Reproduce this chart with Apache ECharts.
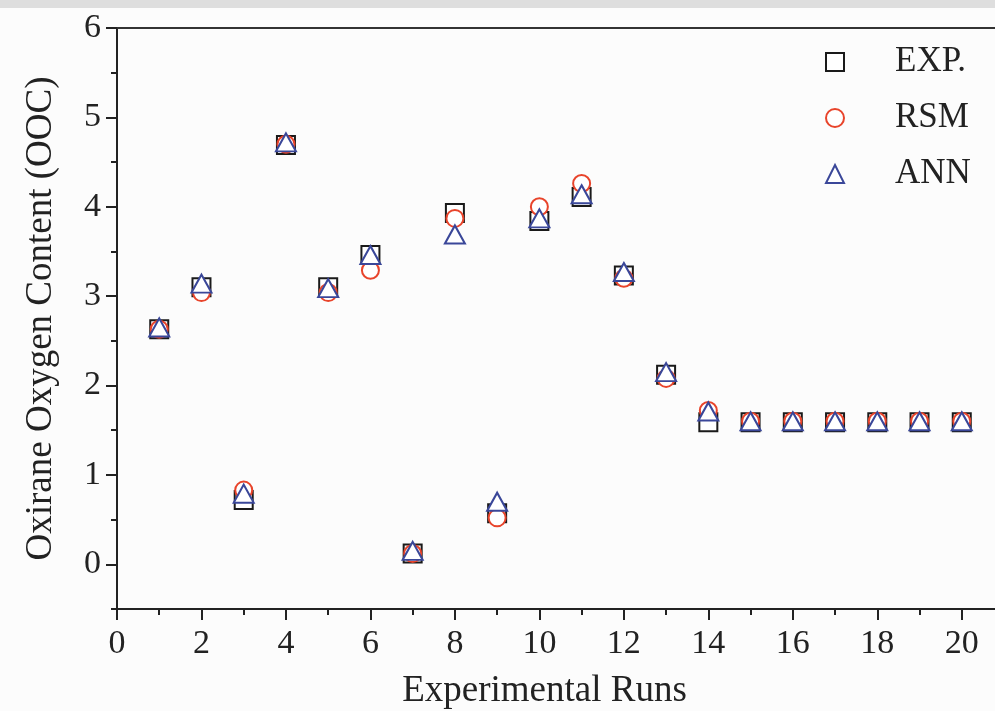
<!DOCTYPE html>
<html>
<head>
<meta charset="utf-8">
<script src="https://cdn.jsdelivr.net/npm/echarts@6/dist/echarts.min.js"></script>
<style>
  html, body { margin: 0; padding: 0; background: #fcfcfc; overflow: hidden; }
  #main { width: 1004px; height: 711px; }
</style>
</head>
<body>
<div id="main"></div>
<script>
// OOC: experimental vs RSM vs ANN
var runs = [1, 2, 3, 4, 5, 6, 7, 8, 9, 10, 11, 12, 13, 14, 15, 16, 17, 18, 19, 20];
var expData = [2.63, 3.10, 0.72, 4.69, 3.10, 3.46, 0.12, 3.93, 0.57, 3.84, 4.11, 3.23, 2.12, 1.59, 1.59, 1.59, 1.59, 1.59, 1.59, 1.59];
var rsmData = [2.63, 3.04, 0.83, 4.70, 3.04, 3.29, 0.12, 3.87, 0.52, 4.00, 4.26, 3.20, 2.08, 1.72, 1.60, 1.60, 1.60, 1.60, 1.60, 1.60];
var annData = [2.65, 3.14, 0.79, 4.72, 3.09, 3.46, 0.15, 3.69, 0.70, 3.87, 4.14, 3.27, 2.15, 1.71, 1.60, 1.60, 1.60, 1.60, 1.60, 1.60];
var seriesNames = ['EXP.', 'RSM', 'ANN'];

var chart = echarts.init(document.getElementById('main'));
var serif = 'Liberation Serif';
var ink = '#222';

function pairs(vals) {
    var out = [];
    for (var i = 0; i < runs.length; i++) {
        out.push([runs[i], vals[i]]);
    }
    return out;
}

var option = {
    backgroundColor: '#fcfcfc',
    animation: false,
    graphic: [{
        type: 'rect',
        left: 0, top: 0,
        shape: { width: 1004, height: 8 },
        style: { fill: '#dedede' }
    }],
    legend: {
        orient: 'vertical',
        left: 820,
        top: 39,
        itemWidth: 18,
        itemHeight: 18,
        itemGap: 20,
        data: seriesNames,
        itemStyle: { borderWidth: 2.4 },
        textStyle: {
            fontFamily: serif,
            fontSize: 35,
            color: ink,
            lineHeight: 36,
            padding: [0, 0, 0, 46]
        }
    },
    grid: [
        // data + minor ticks
        { left: 117, right: 0, top: 28, bottom: 102, outerBoundsMode: 'none' },
        // y major ticks 0..6 and top border
        { left: 117, right: 0, top: 28, bottom: 146.7, outerBoundsMode: 'none' },
        // x major ticks
        { left: 117, right: 0, top: 28, bottom: 102, outerBoundsMode: 'none' }
    ],
    xAxis: [{
        gridIndex: 0,
        type: 'value',
        min: 0, max: 21, interval: 1,
        name: 'Experimental Runs',
        nameLocation: 'middle',
        nameGap: 64,
        nameTextStyle: { fontFamily: serif, fontSize: 37, color: ink, padding: [0, 32, 0, 0] },
        axisLine: { show: true, onZero: false, lineStyle: { color: ink, width: 2 } },
        axisTick: { show: true, length: 6, lineStyle: { color: ink, width: 2 } },
        axisLabel: { show: false },
        splitLine: { show: false }
    }, {
        gridIndex: 1,
        type: 'value',
        position: 'top',
        min: 0, max: 21,
        axisLine: { show: true, onZero: false, lineStyle: { color: '#333', width: 2 } },
        axisTick: { show: false },
        axisLabel: { show: false },
        splitLine: { show: false }
    }, {
        gridIndex: 2,
        type: 'value',
        min: 0, max: 21, interval: 2,
        axisLine: { show: false, onZero: false },
        axisTick: { show: true, length: 11, lineStyle: { color: ink, width: 2 } },
        axisLabel: {
            fontFamily: serif, fontSize: 34, color: ink, margin: 18,
            formatter: function (v) { return v % 2 ? '' : String(v); }
        },
        splitLine: { show: false }
    }],
    yAxis: [{
        gridIndex: 0,
        type: 'value',
        min: -0.5, max: 6, interval: 0.5,
        name: 'Oxirane Oxygen Content (OOC)',
        nameLocation: 'middle',
        nameGap: 57,
        nameTextStyle: { fontFamily: serif, fontSize: 37, color: ink },
        axisLine: { show: true, onZero: false, lineStyle: { color: ink, width: 2 } },
        axisTick: { show: true, length: 6, lineStyle: { color: ink, width: 2 } },
        axisLabel: { show: false },
        splitLine: { show: false }
    }, {
        gridIndex: 1,
        type: 'value',
        min: 0, max: 6, interval: 1,
        axisLine: { show: false, onZero: false },
        axisTick: { show: true, length: 11, lineStyle: { color: ink, width: 2 } },
        axisLabel: { fontFamily: serif, fontSize: 34, color: ink, margin: 16 },
        splitLine: { show: false }
    }, {
        gridIndex: 2,
        type: 'value',
        min: -0.5, max: 6,
        show: false
    }],
    series: [{
        name: 'EXP.',
        type: 'scatter',
        xAxisIndex: 0, yAxisIndex: 0,
        symbol: 'emptyRect',
        symbolSize: 18,
        itemStyle: { color: '#1a1a1a', borderWidth: 2.4, opacity: 1 },
        data: pairs(expData)
    }, {
        name: 'RSM',
        type: 'scatter',
        xAxisIndex: 0, yAxisIndex: 0,
        symbol: 'emptyCircle',
        symbolSize: 17,
        itemStyle: { color: '#e8442b', borderWidth: 2.4, opacity: 1 },
        data: pairs(rsmData)
    }, {
        name: 'ANN',
        type: 'scatter',
        xAxisIndex: 0, yAxisIndex: 0,
        symbol: 'emptyTriangle',
        symbolSize: [20, 18],
        itemStyle: { color: '#3a4799', borderWidth: 2.4, opacity: 1 },
        data: pairs(annData)
    }]
};

chart.setOption(option);
</script>
</body>
</html>
